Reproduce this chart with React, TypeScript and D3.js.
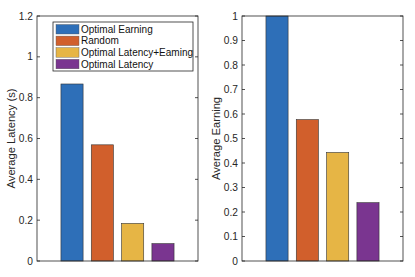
import * as d3 from 'd3';

const categories = ['Optimal Earning', 'Random', 'Optimal Latency+Earning', 'Optimal Latency'];
const legendLabels = ['Optimal Earning', 'Random', 'Optimal Latency+Eaming', 'Optimal Latency'];
const colors = ['#2e6fb8', '#d15f2c', '#e6b545', '#7a3590'];
const latency = [0.867, 0.569, 0.184, 0.085];
const earning = [1.0, 0.577, 0.443, 0.238];
const latencyTicks = [0, 0.2, 0.4, 0.6, 0.8, 1, 1.2];
const earningTicks = [0, 0.1, 0.2, 0.3, 0.4, 0.5, 0.6, 0.7, 0.8, 0.9, 1];

const W = 415;
const H = 277;
const font = 'Liberation Sans, Arial, Helvetica, sans-serif';
const axisColor = '#262626';

type PanelProps = {
  left: number;
  right: number;
  top: number;
  bottom: number;
  values: number[];
  ticks: number[];
  yMax: number;
  label: string;
  labelX: number;
  legend?: boolean;
};

function Panel({ left, right, top, bottom, values, ticks, yMax, label, labelX, legend }: PanelProps) {
  const x = d3.scaleBand<string>().domain(categories).range([left, right]).paddingInner(0.27).paddingOuter(0.79);
  const y = d3.scaleLinear().domain([0, yMax]).range([bottom, top]);
  const fmt = (v: number) => (v === 0 || v === 1 ? String(v) : d3.format('.1f')(v));
  return (
    <g>
      {categories.map((c, i) => (
        <rect
          key={c}
          x={x(c)}
          y={y(values[i])}
          width={x.bandwidth()}
          height={bottom - y(values[i])}
          fill={colors[i]}
          stroke="#333"
          strokeWidth={0.6}
        />
      ))}
      <rect x={left} y={top} width={right - left} height={bottom - top} fill="none" stroke={axisColor} strokeWidth={0.8} />
      {ticks.map((t) => (
        <g key={t}>
          <line x1={left} x2={left + 3} y1={y(t)} y2={y(t)} stroke={axisColor} strokeWidth={0.8} />
          <line x1={right} x2={right - 3} y1={y(t)} y2={y(t)} stroke={axisColor} strokeWidth={0.8} />
          <text x={left - 4} y={y(t)} dy="0.35em" textAnchor="end" fontSize={10.2} fill={axisColor} fontFamily={font}>
            {fmt(t)}
          </text>
        </g>
      ))}
      <text
        transform={`translate(${labelX},${(top + bottom) / 2}) rotate(-90)`}
        textAnchor="middle"
        dy="0.35em"
        fontSize={11.2}
        fill={axisColor}
        fontFamily={font}
      >
        {label}
      </text>
      {legend && (
        <g>
          <rect x={53} y={22} width={140} height={49} fill="#fff" stroke={axisColor} strokeWidth={0.8} />
          {legendLabels.map((l, i) => (
            <g key={l}>
              <rect x={56} y={24.5 + i * 11.6} width={23} height={9.5} fill={colors[i]} stroke="#555" strokeWidth={0.4} />
              <text x={81} y={29.2 + i * 11.6} dy="0.35em" fontSize={10} fill="#111" fontFamily={font}>
                {l}
              </text>
            </g>
          ))}
        </g>
      )}
    </g>
  );
}

export default function App() {
  return (
    <svg width={W} height={H} style={{ position: 'absolute', left: 0, top: 0, background: '#fff' }}>
      <Panel
        left={37}
        right={198}
        top={16}
        bottom={261}
        values={latency}
        ticks={latencyTicks}
        yMax={1.2}
        label="Average Latency (s)"
        labelX={11}
        legend
      />
      <Panel
        left={242}
        right={403}
        top={16}
        bottom={261}
        values={earning}
        ticks={earningTicks}
        yMax={1}
        label="Average Earning"
        labelX={216.5}
      />
    </svg>
  );
}
